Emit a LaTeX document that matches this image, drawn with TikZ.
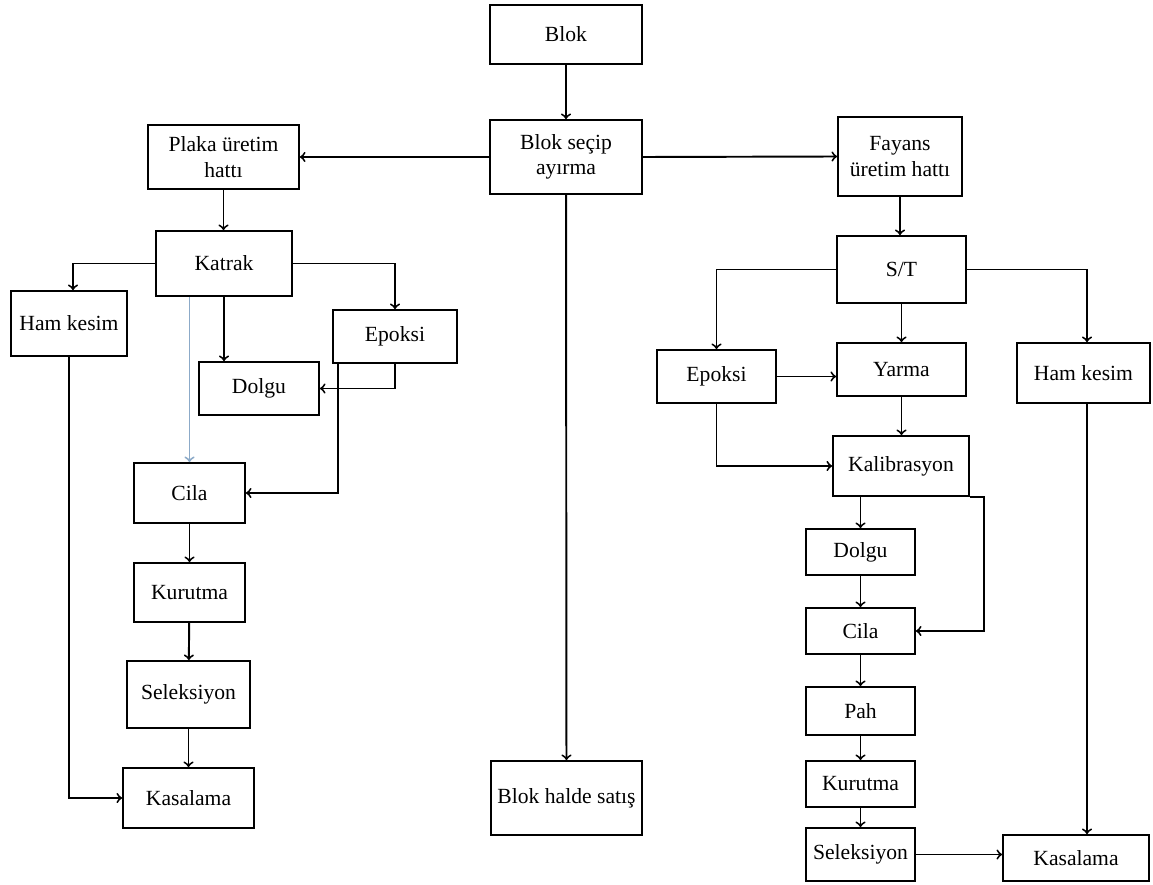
\documentclass[tikz,border=0pt]{standalone}
\usepackage{fontspec}
\setmainfont{Liberation Serif}
\definecolor{paleblue}{RGB}{140,170,200}
\tikzset{
  box/.style={draw,line width=1.1pt,inner sep=0pt,align=center,
    font=\fontsize{12.3}{14.5}\selectfont},
  flow/.style={->,line width=1.1pt}
}
\begin{document}
\begin{tikzpicture}
        [x=0.02cm,y=-0.02cm]
        \useasboundingbox (0,0) rectangle (1153,885);
        % middle
        \node[box,minimum width=3.04cm,minimum height=1.18cm] (blok) at (566,34.5) {Blok};
        \node[box,minimum width=3.04cm,minimum height=1.48cm] (secip) at (566,157) {Blok seçip\\ayırma};
        \node[box,minimum width=3.02cm,minimum height=1.48cm] (satis) at (566.5,798) {Blok halde satış};
        % plaka line
        \node[box,minimum width=3.02cm,minimum height=1.28cm] (plaka) at (223.5,157) {Plaka üretim\\hattı};
        \node[box,minimum width=2.72cm,minimum height=1.30cm] (katrak) at (224,263.5) {Katrak};
        \node[box,minimum width=2.32cm,minimum height=1.30cm] (hamA) at (69,323.5) {Ham kesim};
        \node[box,minimum width=2.40cm,minimum height=1.06cm] (dolguA) at (259,388.5) {Dolgu};
        \node[box,minimum width=2.48cm,minimum height=1.06cm] (epoksiA) at (395,336.5) {Epoksi};
        \node[box,minimum width=2.22cm,minimum height=1.20cm] (cilaA) at (189.5,493) {Cila};
        \node[box,minimum width=2.22cm,minimum height=1.18cm] (kurA) at (189.5,592.5) {Kurutma};
        \node[box,minimum width=2.46cm,minimum height=1.34cm] (selA) at (188.5,694.5) {Seleksiyon};
        \node[box,minimum width=2.62cm,minimum height=1.20cm] (kasaA) at (188.5,798) {Kasalama};
        % fayans line
        \node[box,minimum width=2.48cm,minimum height=1.58cm] (fayans) at (900,156.5) {Fayans\\üretim hattı};
        \node[box,minimum width=2.58cm,minimum height=1.34cm] (st) at (901.5,269.5) {S/T};
        \node[box,minimum width=2.38cm,minimum height=1.06cm] (epoksiB) at (716.5,376.5) {Epoksi};
        \node[box,minimum width=2.58cm,minimum height=1.06cm] (yarma) at (901.5,369.5) {Yarma};
        \node[box,minimum width=2.66cm,minimum height=1.20cm] (hamB) at (1083.5,373) {Ham kesim};
        \node[box,minimum width=2.72cm,minimum height=1.20cm] (kalib) at (901,466) {Kalibrasyon};
        \node[box,minimum width=2.18cm,minimum height=0.92cm] (dolguB) at (860.5,552) {Dolgu};
        \node[box,minimum width=2.18cm,minimum height=0.92cm] (cilaB) at (860.5,631) {Cila};
        \node[box,minimum width=2.18cm,minimum height=0.96cm] (pah) at (860.5,711) {Pah};
        \node[box,minimum width=2.18cm,minimum height=0.92cm] (kurB) at (860.5,784) {Kurutma};
        \node[box,minimum width=2.18cm,minimum height=1.06cm] (selB) at (860.5,854.5) {Seleksiyon};
        \node[box,minimum width=2.92cm,minimum height=0.92cm] (kasaB) at (1076,858) {Kasalama};
        \coordinate (epA) at ([xshift=0.12cm]epoksiA.south west);
        \coordinate (kalE) at ([xshift=0.28cm]kalib.south east);

        \draw[flow] (blok) -- (secip);
        \draw[flow] (secip.west) -- (plaka.east);
        \draw[flow] (secip.east) -- (fayans.west);
        \draw[flow] (secip) -- (satis);

        \draw[flow] (plaka) -- (plaka |- katrak.north);
        \draw[flow] (katrak.west) -| ([xshift=0.08cm]hamA.north);
        \draw[flow] (katrak.south) -- (katrak.south |- dolguA.north);
        \draw[flow] (katrak.east) -| (epoksiA.north);
        \draw[flow] (epoksiA.south) |- (dolguA.east);
        \draw[flow] (epA) |- (cilaA.east);
        \draw[flow,paleblue] (katrak.south -| cilaA.north) -- (cilaA.north);
        \draw[flow] (cilaA) -- (kurA);
        \draw[flow] (kurA) -- (selA);
        \draw[flow] (selA) -- (kasaA);
        \draw[flow] (hamA.south) |- (kasaA.west);

        \draw[flow] (fayans) -- (fayans |- st.north);
        \draw[flow] (st.west) -| (epoksiB.north);
        \draw[flow] (st.east) -| ([xshift=0.07cm]hamB.north);
        \draw[flow] (st) -- (yarma);
        \draw[flow] (epoksiB.east) -- (epoksiB.east -| yarma.west);
        \draw[flow] (epoksiB.south) |- (kalib.west);
        \draw[flow] (yarma) -- (yarma |- kalib.north);
        \draw[flow] (kalib.south -| dolguB.north) -- (dolguB.north);
        \draw[flow] (kalib.south east) -- (kalE) |- (cilaB.east);
        \draw[flow] (dolguB) -- (cilaB);
        \draw[flow] (cilaB) -- (pah);
        \draw[flow] (pah) -- (kurB);
        \draw[flow] (kurB) -- (selB);
        \draw[flow] (selB.east) -- (selB.east -| kasaB.west);
        \draw[flow] ([xshift=0.07cm]hamB.south) -- ([xshift=0.07cm]hamB.south |- kasaB.north);
      \end{tikzpicture}
\end{document}
